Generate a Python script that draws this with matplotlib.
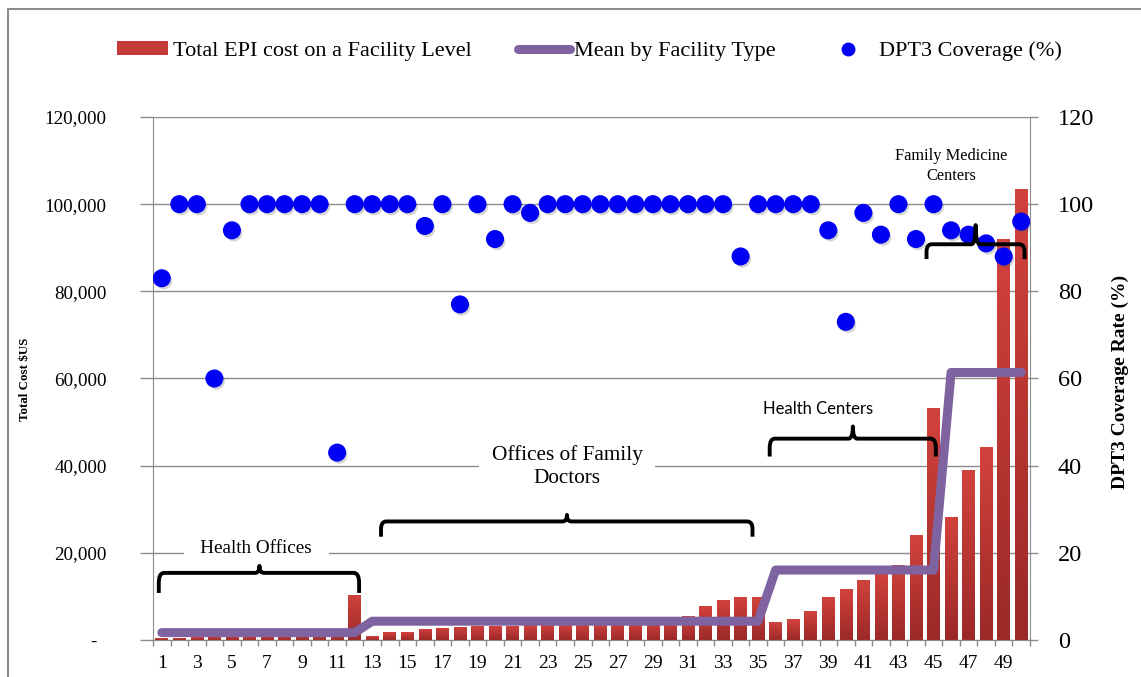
import numpy as np
import matplotlib.pyplot as plt
import matplotlib.patheffects as pe
from matplotlib.colors import LinearSegmentedColormap
from matplotlib.lines import Line2D
from matplotlib.patches import Patch, PathPatch
from matplotlib.path import Path

plt.rcParams['font.family'] = ['Liberation Serif', 'DejaVu Serif']

# facilities in order, grouped by type
facility_types = ["Health Offices", "Offices of Family\nDoctors", "Health Centers",
                  "Family Medicine\nCenters"]
facility_counts = [12, 23, 10, 5]

# total EPI cost per facility ($US)
total_cost = [400, 500, 600, 700, 800, 900, 1000, 1100, 1200, 1300, 1400, 10400,
              900, 1800, 1800, 2600, 2800, 3000, 3100, 3150, 3300, 3350, 3500, 3600,
              3650, 3800, 3900, 4000, 4200, 4400, 5500, 7800, 9200, 9900, 9900,
              4100, 4800, 6700, 9900, 11700, 13800, 15100, 17200, 24000, 53300,
              28300, 38900, 44200, 92000, 103500]

# DPT3 coverage per facility (%)
dpt3 = [83, 100, 100, 60, 94, 100, 100, 100, 100, 100, 43, 100,
        100, 100, 100, 95, 100, 77, 100, 92, 100, 98, 100, 100,
        100, 100, 100, 100, 100, 100, 100, 100, 100, 88, 100,
        100, 100, 100, 94, 73, 98, 93, 100, 92, 100,
        94, 93, 91, 88, 96]

cost_ticks = [0, 20000, 40000, 60000, 80000, 100000, 120000]
cost_ticklabels = ['-  ', '20,000', '40,000', '60,000', '80,000', '100,000', '120,000']
rate_ticks = [0, 20, 40, 60, 80, 100, 120]

n = len(total_cost)
x = np.arange(1, n + 1)
cost = np.array(total_cost, dtype=float)

# mean cost of each facility type, repeated for every facility of that type
group_mean = []
start = 0
for c in facility_counts:
    group_mean += [cost[start:start + c].mean()] * c
    start += c

GRID = '#8c8c8c'
RED = '#c23b36'
PURPLE = '#7f63a1'
BLUE = '#0000f5'

fig = plt.figure(figsize=(11.41, 6.77), dpi=100)
ax = fig.add_axes([153 / 1141, 37 / 677, 877 / 1141, 523 / 677])
ax2 = ax.twinx()

# bars with a vertical gradient fill
bars = ax.bar(x, cost, width=0.72, color=RED, linewidth=0, zorder=2)
grad = np.linspace(0, 1, 64).reshape(-1, 1)
cmap = LinearSegmentedColormap.from_list('barfill', ['#9c2927', '#d2423d'])
for b in bars:
    bx, by, bw, bh = b.get_x(), b.get_y(), b.get_width(), b.get_height()
    im = ax.imshow(grad, cmap=cmap, extent=[bx, bx + bw, by, by + bh],
                   origin='lower', aspect='auto', zorder=2.5)
    im.set_clip_path(b)

ax.plot(x, group_mean, color=PURPLE, lw=6.5, solid_capstyle='round',
        solid_joinstyle='round', zorder=4)

ax2.plot(x, dpt3, 'o', ms=12, color=BLUE, zorder=5,
         path_effects=[pe.SimplePatchShadow(offset=(1.5, -2), shadow_rgbFace='#555555', alpha=0.25),
                       pe.Normal()])

ax.set_xlim(0.5, n + 0.5)
ax.set_ylim(0, 120000)
ax2.set_ylim(0, 120)

ax.set_yticks(cost_ticks, cost_ticklabels)
ax.tick_params(axis='y', length=9.4, width=1, color=GRID, pad=24, labelsize=13.7)
ax2.set_yticks(rate_ticks)
ax2.tick_params(axis='y', length=6, width=1, color=GRID, pad=14, labelsize=17.5)

ax.set_xticks(x[::2], [str(v) for v in x[::2]])
ax.set_xticks(np.arange(0.5, n + 1, 1), minor=True)
ax.tick_params(axis='x', which='major', length=0, pad=11, labelsize=14)
ax.tick_params(axis='x', which='minor', length=4.5, width=1, color=GRID)

ax.yaxis.grid(True, color=GRID, lw=1)
ax.set_axisbelow(True)
for a in (ax, ax2):
    a.spines['top'].set_visible(False)
    for s in a.spines.values():
        s.set_color(GRID)
ax.spines['right'].set_visible(False)
ax2.spines['left'].set_visible(False)
ax2.spines['bottom'].set_visible(False)


def brace(a, x0, x1, xm, y_end, y_top, y_tip, r=0.3, k=0.25):
    ry = (y_top - y_end) * 0.5
    verts = [(x0, y_end), (x0, y_top - ry), (x0, y_top), (x0 + r, y_top),
             (xm - k, y_top), (xm, y_top), (xm, y_tip),
             (xm, y_top), (xm + k, y_top),
             (x1 - r, y_top), (x1, y_top), (x1, y_top - ry), (x1, y_end)]
    codes = [Path.MOVETO, Path.LINETO, Path.CURVE3, Path.CURVE3,
             Path.LINETO, Path.CURVE3, Path.CURVE3, Path.CURVE3, Path.CURVE3,
             Path.LINETO, Path.CURVE3, Path.CURVE3, Path.LINETO]
    a.add_patch(PathPatch(Path(verts, codes), fill=False, lw=2.8, color='black',
                          capstyle='butt', joinstyle='round', zorder=6))


# group braces, drawn in coverage units on the right axis
brace(ax2, 0.83, 12.25, 6.57, 10.8, 15.4, 17.0)
brace(ax2, 13.5, 34.68, 24.1, 23.7, 27.2, 28.7)
brace(ax2, 35.66, 45.13, 40.4, 42.1, 46.2, 49.0)
brace(ax2, 44.6, 50.19, 47.4, 87.4, 90.8, 95.2)

ax2.text(6.4, 20.9, '   ' + facility_types[0] + '   ', ha='center', va='center',
         fontsize=13.8, zorder=5.5,
         bbox=dict(boxstyle='square,pad=0.15', fc='white', ec='none'))
ax2.text(24.1, 39.8, facility_types[1], ha='center', va='center', fontsize=15.3,
         linespacing=1.35, zorder=5.5,
         bbox=dict(boxstyle='square,pad=0.6', fc='white', ec='none'))
ax2.text(38.4, 53.1, facility_types[2], ha='center', va='center', fontsize=12,
         family=['Lato', 'DejaVu Sans'], zorder=6)
ax2.text(46.0, 108.7, facility_types[3], ha='center', va='center', fontsize=11.8,
         linespacing=1.3, zorder=6)

fig.text(25 / 1141, 1 - 379 / 677, 'Total Cost $US', rotation=90, ha='center', va='center',
         fontsize=9.4, fontweight='bold')
fig.text(1120 / 1141, 1 - 382 / 677, 'DPT3 Coverage Rate (%)', rotation=90, ha='center',
         va='center', fontsize=14, fontweight='bold')

handles = [Patch(facecolor=RED, linewidth=0),
           Line2D([], [], color=PURPLE, lw=6.5, solid_capstyle='round'),
           Line2D([], [], ls='', marker='o', ms=9, color=BLUE)]
labels = ['Total EPI cost on a Facility Level', 'Mean by Facility Type', 'DPT3 Coverage (%)']
fig.legend(handles, labels, loc='center left', bbox_to_anchor=(117 / 1141, 1 - 51 / 677),
           ncol=3, frameon=False, borderpad=0, borderaxespad=0, handlelength=2.3,
           handleheight=0.6, handletextpad=0.22, columnspacing=2.1, prop={'size': 16})

# outer frame: top and left edges
fx, fy = 8 / 1141, 1 - 9 / 677
fig.add_artist(Line2D([fx, fx, 1], [0, fy, fy], color=GRID, lw=1.5))

fig.savefig('out.png', dpi=100)
